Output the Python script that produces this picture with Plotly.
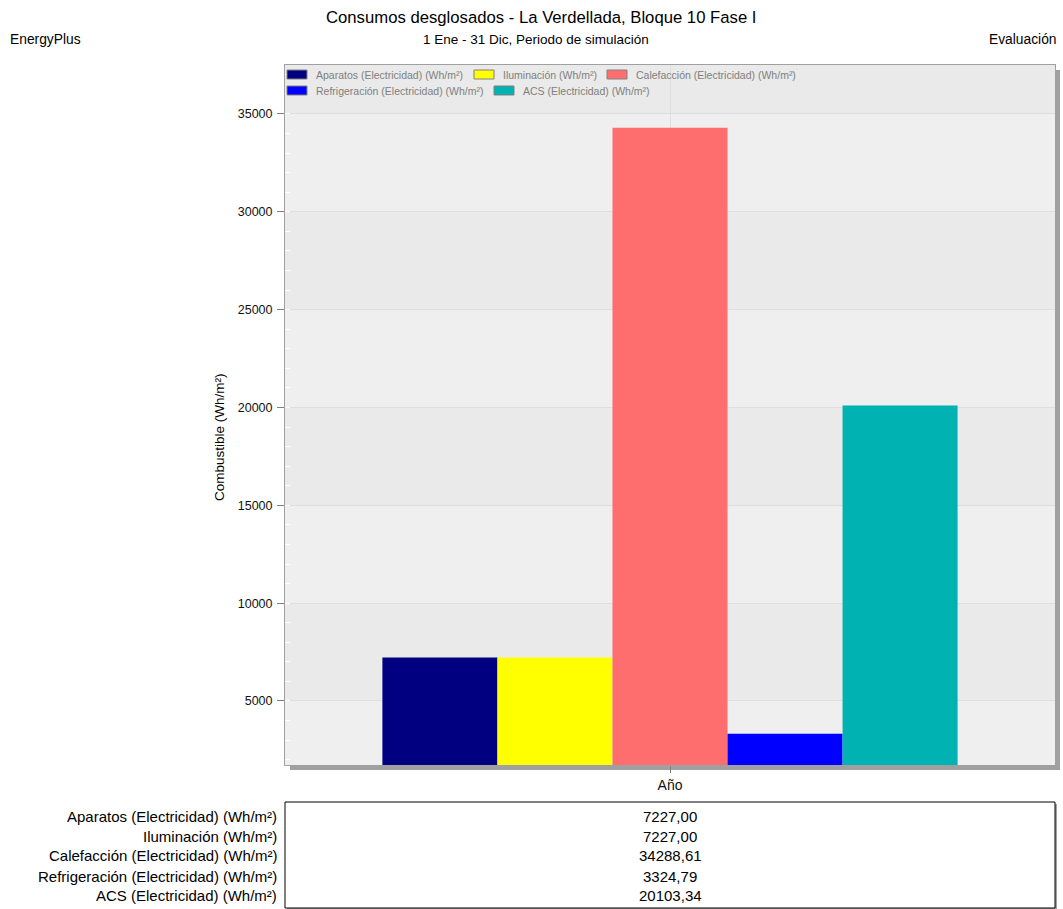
import plotly.graph_objects as go

# ---- data ----
categories = ["Año"]
series_names = [
    "Aparatos (Electricidad) (Wh/m²)",
    "Iluminación (Wh/m²)",
    "Calefacción (Electricidad) (Wh/m²)",
    "Refrigeración (Electricidad) (Wh/m²)",
    "ACS (Electricidad) (Wh/m²)",
]
series_values = [7227.00, 7227.00, 34288.61, 3324.79, 20103.34]
series_colors = ["#000080", "#FFFF00", "#FF6E6E", "#0000FF", "#00B2B2"]
y_tick_values = [5000, 10000, 15000, 20000, 25000, 30000, 35000]

title_text = "Consumos desglosados - La Verdellada, Bloque 10 Fase I"
subtitle_text = "1 Ene - 31 Dic, Periodo de simulación"
left_text = "EnergyPlus"
right_text = "Evaluación"
y_title = "Combustible (Wh/m²)"

FONT = "Liberation Sans, Arial, sans-serif"

# ---- layout geometry (pixels) ----
W, H = 1063, 909
ML, MR, MT, MB = 285, 8, 65, 144
PW, PH = W - ML - MR, H - MT - MB
Y_RANGE = [1729, 37500]

# legend slot positions (pixels: swatch left, row centre)
legend_slots = [(287, 74.5), (474, 74.5), (607, 74.5), (287, 90.5), (494, 90.5)]
# table row centres (pixels)
table_rows = [816, 836, 856, 876, 895]


def px_x(px):
    return (px - ML) / PW


def px_y(py):
    return (H - MB - py) / PH


fig = go.Figure()
for name, val, col in zip(series_names, series_values, series_colors):
    fig.add_trace(go.Bar(
        x=categories, y=[val], name=name,
        marker=dict(color=col, line=dict(width=0)),
        hovertemplate="%{y:.2f}<extra>" + name + "</extra>",
    ))

shapes = [
    # plot shadow
    dict(type="rect", xref="paper", yref="paper", layer="below",
         x0=px_x(ML + 5), x1=px_x(ML + PW + 5), y0=px_y(MT + PH + 5), y1=px_y(MT + 5),
         fillcolor="#A0A0A0", line=dict(width=0)),
    # plot background
    dict(type="rect", xref="paper", yref="paper", layer="below",
         x0=0, x1=1, y0=0, y1=1, fillcolor="#EEEFEE", line=dict(width=0)),
    # table shadow
    dict(type="rect", xref="paper", yref="paper", layer="below",
         x0=px_x(287), x1=px_x(1057), y0=px_y(910), y1=px_y(804),
         fillcolor="#A0A0A0", line=dict(width=0)),
    # table box
    dict(type="rect", xref="paper", yref="paper", layer="below",
         x0=px_x(285), x1=px_x(1055), y0=px_y(908), y1=px_y(802),
         fillcolor="white", line=dict(color="black", width=1)),
]

# alternating darker bands between major gridlines
band_edges = y_tick_values + [Y_RANGE[1]]
for i in range(len(band_edges) - 1):
    if i % 2 == 0:
        shapes.append(dict(type="rect", xref="x domain", yref="y", layer="below",
                           x0=0, x1=1, y0=band_edges[i], y1=band_edges[i + 1],
                           fillcolor="#E9EAE9", line=dict(width=0)))

annotations = [
    dict(text=title_text, x=px_x(541), y=px_y(18), xref="paper", yref="paper",
         showarrow=False, xanchor="center", yanchor="middle",
         font=dict(family=FONT, size=16.7, color="black")),
    dict(text=subtitle_text, x=px_x(535.5), y=px_y(40), xref="paper", yref="paper",
         showarrow=False, xanchor="center", yanchor="middle",
         font=dict(family=FONT, size=13.5, color="black")),
    dict(text=left_text, x=px_x(8), y=px_y(40), xref="paper", yref="paper",
         showarrow=False, xanchor="left", yanchor="middle",
         font=dict(family=FONT, size=13.8, color="black")),
    dict(text=right_text, x=px_x(1059), y=px_y(40), xref="paper", yref="paper",
         showarrow=False, xanchor="right", yanchor="middle",
         font=dict(family=FONT, size=13.8, color="black")),
    dict(text=y_title, x=px_x(220), y=px_y(437), xref="paper", yref="paper",
         showarrow=False, xanchor="center", yanchor="middle", textangle=-90,
         font=dict(family=FONT, size=13.5, color="black")),
]

# manual legend (wide rectangular swatches like the reference)
for name, col, (sx, sy) in zip(series_names, series_colors, legend_slots):
    shapes.append(dict(type="rect", xref="paper", yref="paper", layer="above",
                       x0=px_x(sx), x1=px_x(sx + 20), y0=px_y(sy + 4.5), y1=px_y(sy - 4.5),
                       fillcolor=col, line=dict(color="#808080", width=1)))
    annotations.append(dict(text=name, x=px_x(sx + 27), y=px_y(sy), xref="paper", yref="paper",
                            showarrow=False, xanchor="left", yanchor="middle",
                            font=dict(family=FONT, size=10.5, color="#808080")))

# data table under the chart
for name, val, ry in zip(series_names, series_values, table_rows):
    annotations.append(dict(text=name, x=px_x(279), y=px_y(ry), xref="paper", yref="paper",
                            showarrow=False, xanchor="right", yanchor="middle",
                            font=dict(family=FONT, size=15, color="black")))
    annotations.append(dict(text=f"{val:.2f}".replace(".", ","), x=px_x(670), y=px_y(ry),
                            xref="paper", yref="paper", showarrow=False,
                            xanchor="center", yanchor="middle",
                            font=dict(family=FONT, size=15, color="black")))

fig.update_layout(
    width=W, height=H,
    margin=dict(l=ML, r=MR, t=MT, b=MB, pad=0),
    paper_bgcolor="white",
    plot_bgcolor="rgba(0,0,0,0)",
    barmode="group", bargap=0.253, bargroupgap=0,
    font=dict(family=FONT, size=12, color="black"),
    showlegend=False,
    shapes=shapes,
    annotations=annotations,
    xaxis=dict(
        range=[-0.5, 0.5], showgrid=True, gridcolor="#DDDEDD", gridwidth=1,
        showline=True, linecolor="#A0A0A0", linewidth=1, mirror=True,
        ticks="outside", ticklen=7, tickcolor="#808080",
        tickfont=dict(family=FONT, size=14, color="#111111"),
        zeroline=False, fixedrange=True,
    ),
    yaxis=dict(
        range=Y_RANGE, tickvals=y_tick_values, tickformat="d",
        showgrid=True, gridcolor="#DDDEDD", gridwidth=1,
        showline=True, linecolor="#A0A0A0", linewidth=1, mirror=True,
        ticks="outside", ticklen=7, tickcolor="#808080",
        ticklabelstandoff=2,
        tickfont=dict(family=FONT, size=12.5, color="#111111"),
        minor=dict(dtick=1000, tick0=0, ticks="inside", ticklen=5,
                   tickcolor="white", showgrid=False),
        zeroline=False, fixedrange=True,
    ),
)

fig.write_html(
    "out.html",
    config={"displayModeBar": False},
    post_script="document.body.style.margin='0';document.body.style.overflow='hidden';",
)
